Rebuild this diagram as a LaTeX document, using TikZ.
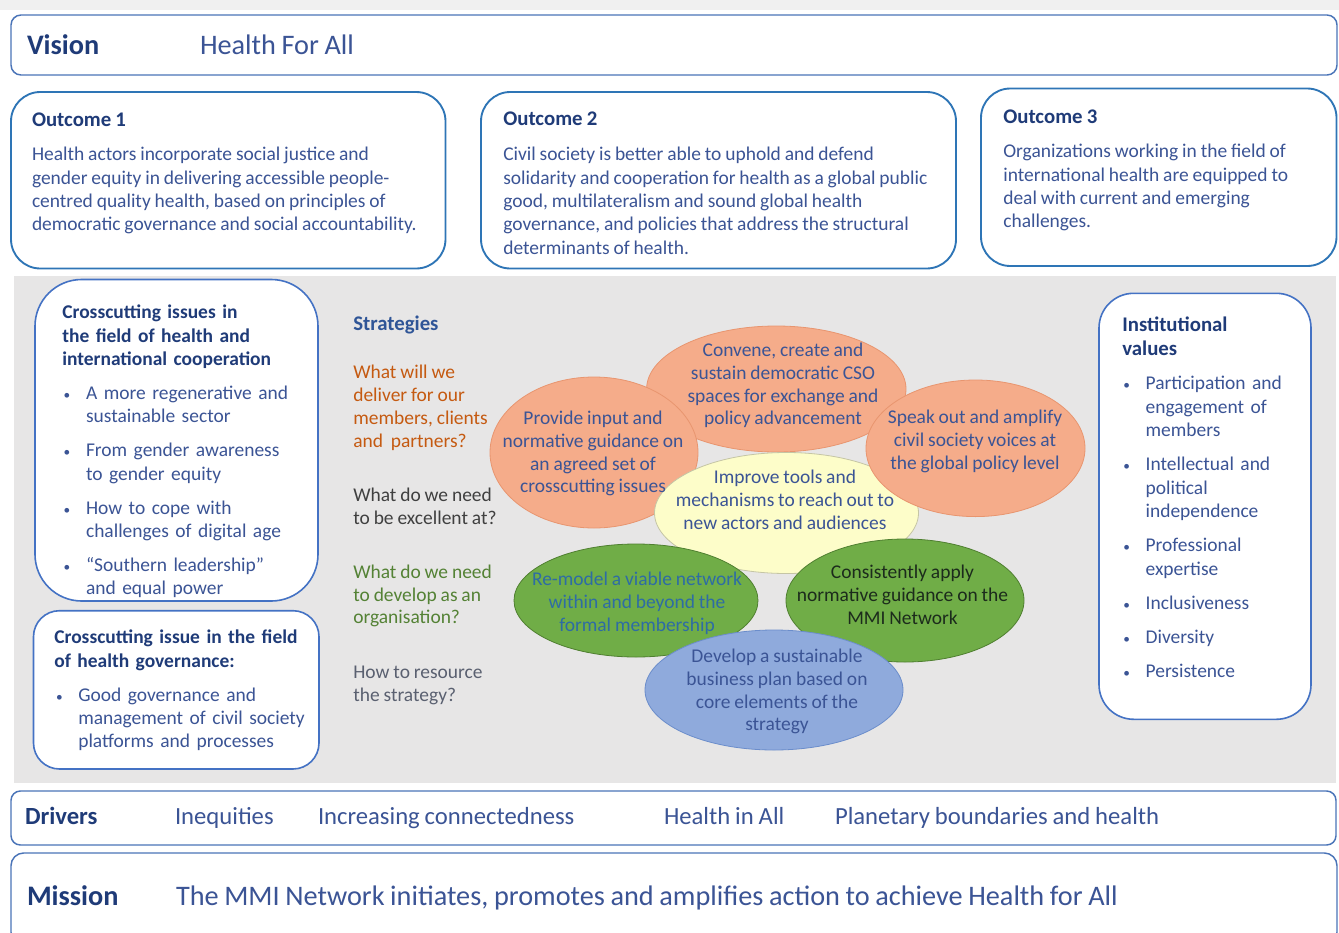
\documentclass[tikz,border=0pt]{standalone}
\usepackage{fontspec}
\setmainfont{Carlito}[WordSpace=0.88]
\definecolor{titleblue}{HTML}{1F3B78}
\definecolor{bodyblue}{HTML}{3B5495}
\definecolor{vborder}{HTML}{4A74B8}
\definecolor{oborder}{HTML}{2E75B6}
\definecolor{lborder}{HTML}{4472C4}
\definecolor{panel}{HTML}{E7E6E6}
\definecolor{topgray}{HTML}{F0F0F0}
\definecolor{qorange}{HTML}{C55A11}
\definecolor{qdark}{HTML}{404040}
\definecolor{qgreen}{HTML}{548235}
\definecolor{qgray}{HTML}{5A6070}
\definecolor{stratblue}{HTML}{2F5597}
\definecolor{eorange}{HTML}{F5AC8A}
\definecolor{eorangeb}{HTML}{E8956F}
\definecolor{eyellow}{HTML}{FDFDC9}
\definecolor{eyellowb}{HTML}{C5C5A5}
\definecolor{egreen}{HTML}{70AD47}
\definecolor{egreenb}{HTML}{4F7F30}
\definecolor{eblue}{HTML}{8FAADC}
\definecolor{eblueb}{HTML}{6B8DCB}
\definecolor{remodel}{HTML}{2E6CA4}
\definecolor{consist}{HTML}{1C2B1C}
\newcommand\fbody{\fontsize{14.6}{17.5}\selectfont}
\newcommand\fell{\fontsize{14.6}{17}\selectfont}
\newcommand\fstr{\fontsize{14.6}{17.1}\selectfont}
\newcommand\ftitle{\fontsize{15.6}{18.3}\selectfont\bfseries}
\newcommand\fbig{\fontsize{21.2}{25}\selectfont}
\newcommand\fdrv{\fontsize{18.5}{22}\selectfont}
\newcommand\tl{\rule{0pt}{0.8em}}
\newcommand\itm[2]{\par\noindent\hangindent=#2\hangafter=1\hbox to #2{\hspace{#1}{\fontsize{10}{10}\selectfont\textbullet}\hfil}}
\tikzset{
  vbox/.style={draw=vborder, line width=1.1pt, fill=white},
  obox/.style={draw=oborder, line width=1.4pt, fill=white, rounded corners=22pt},
  lbox/.style={draw=lborder, line width=1.2pt, fill=white},
  txt/.style={inner sep=0pt, outer sep=0pt},
  blk/.style={txt, anchor=north west, align=left, font=\fbody},
  etxt/.style={txt, anchor=north, align=center, font=\fell, text=bodyblue},
  eor/.style={fill=eorange, draw=eorangeb, line width=0.6pt},
  eye/.style={fill=eyellow, draw=eyellowb, line width=0.6pt},
  egr/.style={fill=egreen, draw=egreenb, line width=0.6pt},
  ebl/.style={fill=eblue, draw=eblueb, line width=0.6pt},
}
\begin{document}
\begin{tikzpicture}[x=0.75pt,y=-0.75pt]
\clip (0,0) rectangle (1339,932);
\fill[white] (0,0) rectangle (1339,932);
\fill[topgray] (0,0) rectangle (1339,10);
\fill[panel] (14,276) rectangle (1336,783);

% Vision
\draw[vbox, rounded corners=7.5pt] (11,15) rectangle (1337,75);
\node[txt, anchor=base west, font=\fbig\bfseries, text=titleblue] (vis) at (27,54.3) {Vision};
\node[txt, anchor=base west, font=\fbig, text=bodyblue] (hfa) at (200,54.3) {Health For All};

% Outcomes
\draw[obox] (11,92) rectangle (445.5,268.5);
\draw[obox] (481,92) rectangle (956,268.5);
\draw[obox] (981,88.5) rectangle (1336.5,266);
\node[txt, anchor=base west, font=\ftitle, text=titleblue] (o1t) at (32,126) {Outcome 1};
\node[txt, anchor=base west, font=\ftitle, text=titleblue] (o2t) at (503.3,125.7) {Outcome 2};
\node[txt, anchor=base west, font=\ftitle, text=titleblue] (o3t) at (1003.3,123.5) {Outcome 3};
\node[blk, text=bodyblue] (o1b) at (32,161-15.6) {\tl Health actors incorporate social justice and\\gender equity in delivering accessible people-\\centred quality health, based on principles of\\democratic governance and social accountability.};
\node[blk, text=bodyblue] (o2b) at (503.3,160.7-15.6) {\tl Civil society is better able to uphold and defend\\solidarity and cooperation for health as a global public\\good, multilateralism and sound global health\\governance, and policies that address the structural\\determinants of health.};
\node[blk, text=bodyblue] (o3b) at (1003.3,158-15.6) {\tl Organizations working in the field of\\international health are equipped to\\deal with current and emerging\\challenges.};

% Left crosscutting boxes
\draw[lbox, rounded corners=35pt] (35,279.5) rectangle (318,601);
\draw[lbox, rounded corners=19.5pt] (33.5,610.7) rectangle (319,769);
\node[blk, text width=187pt, text=bodyblue] (cc1) at (62.3,319-15.6) {\setlength{\parskip}{8pt}%
{\bfseries\color{titleblue}\tl Crosscutting issues in\newline the field of health and\newline international cooperation\par}
\itm{1pt}{17.8pt}A more regenerative and\newline sustainable sector
\itm{1pt}{17.8pt}From gender awareness\newline to gender equity
\itm{1pt}{17.8pt}How to cope with\newline challenges of digital age
\itm{1pt}{17.8pt}“Southern leadership”\newline and equal power\par};
\node[blk, text width=200pt, text=bodyblue] (cc2) at (54.3,644-15.6) {\setlength{\parskip}{8pt}%
{\bfseries\color{titleblue}\tl Crosscutting issue in the field\newline of health governance:\par}
\itm{1.3pt}{18pt}Good governance and\newline management of civil society\newline platforms and processes\par};

% Strategies
\node[txt, anchor=base west, font=\ftitle, text=stratblue] (strt) at (353.3,330.7) {Strategies};
\node[blk, font=\fstr, text=qorange] (q1) at (353.3,379-15.6) {\tl What will we\\deliver for our\\members, clients\\and~ partners?};
\node[blk, font=\fstr, text=qdark] (q2) at (353.3,501.7-15.6) {\tl What do we need\\to be excellent at?};
\node[blk, font=\fstr, text=qgreen] (q3) at (353.3,578.3-15.6) {\tl What do we need\\to develop as an\\organisation?};
\node[blk, font=\fstr, text=qgray] (q4) at (353.3,679-15.6) {\tl How to resource\\the strategy?};

% Ellipses
\draw[eor] (776.3,389) ellipse [x radius=129.7, y radius=63];
\draw[eor] (594,452.5) ellipse [x radius=104, y radius=75.5];
\draw[eye] (786.5,513) ellipse [x radius=132, y radius=60.5];
\draw[eor] (975.5,448.3) ellipse [x radius=109.5, y radius=68.3];
\draw[egr] (636,600.5) ellipse [x radius=122, y radius=56.5];
\draw[egr] (905,600.5) ellipse [x radius=119, y radius=61.5];
\draw[ebl] (774,690) ellipse [x radius=129, y radius=60];

\node[etxt] (e1) at (783,356.7-15.6) {\tl Convene, create and\\sustain democratic CSO\\spaces for exchange and\\policy advancement};
\node[etxt] (e2) at (593,425-15.6) {\tl Provide input and\\normative guidance on\\an agreed set of\\crosscutting issues};
\node[etxt] (e3) at (975,424-15.6) {\tl Speak out and amplify\\civil society voices at\\the global policy level};
\node[etxt] (e4) at (785,484-15.6) {\tl Improve tools and\\mechanisms to reach out to\\new actors and audiences};
\node[etxt, text=remodel] (e5) at (637,586-15.6) {\tl Re-model a viable network\\within and beyond the\\formal membership};
\node[etxt, text=consist] (e6) at (902.5,579-15.6) {\tl Consistently apply\\normative guidance on the\\MMI Network};
\node[etxt] (e7) at (777,663-15.6) {\tl Develop a sustainable\\business plan based on\\core elements of the\\strategy};

% Institutional values
\draw[lbox, rounded corners=26pt] (1099,293.3) rectangle (1311,719.3);
\node[blk, text width=150pt, text=bodyblue] (iv) at (1122.3,314.5) {\setlength{\parskip}{8.2pt}%
{\ftitle\color{titleblue}\tl Institutional\newline values\par}
\itm{0.8pt}{17.5pt}Participation and\newline engagement of\newline members
\itm{0.8pt}{17.5pt}Intellectual and\newline political\newline independence
\itm{0.8pt}{17.5pt}Professional\newline expertise
\itm{0.8pt}{17.5pt}Inclusiveness
\itm{0.8pt}{17.5pt}Diversity
\itm{0.8pt}{17.5pt}Persistence\par};

% Drivers
\draw[vbox, rounded corners=7pt] (11,791) rectangle (1336,845);
\node[txt, anchor=base west, font=\fdrv\bfseries, text=titleblue] (drv) at (25,824) {Drivers};
\node[txt, anchor=base west, font=\fdrv, text=bodyblue] (d1) at (175,824) {Inequities};
\node[txt, anchor=base west, font=\fdrv, text=bodyblue] (d2) at (318,824) {Increasing connectedness};
\node[txt, anchor=base west, font=\fdrv, text=bodyblue] (d3) at (664,824) {Health in All};
\node[txt, anchor=base west, font=\fdrv, text=bodyblue] (d4) at (835,824) {Planetary boundaries and health};

% Mission
\draw[vbox, rounded corners=9.5pt] (11,853) rectangle (1337,945);
\node[txt, anchor=base west, font=\fbig\bfseries, text=titleblue] (mis) at (27,905) {Mission};
\node[txt, anchor=base west, font=\fbig, text=bodyblue] (mist) at (176,905) {The MMI Network initiates, promotes and amplifies action to achieve Health for All};
\end{tikzpicture}
\end{document}
